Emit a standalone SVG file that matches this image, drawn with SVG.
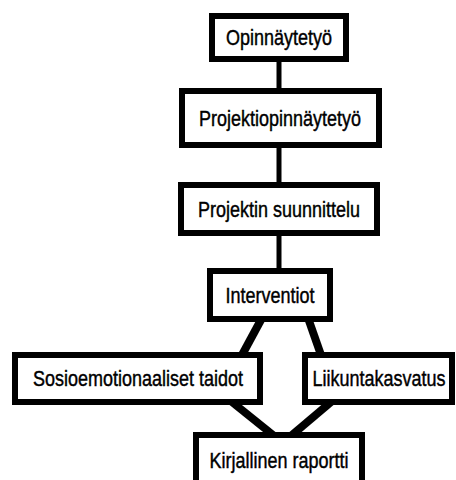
<svg xmlns="http://www.w3.org/2000/svg" width="456" height="480" viewBox="0 0 456 480">
<style>
.box{fill:#fff;stroke:#000;stroke-width:6}
.lbl{font-family:"Liberation Sans",Arial,sans-serif;font-size:18px;fill:#000;stroke:#000;stroke-width:0.35;text-anchor:middle}
.con{stroke:#000;fill:none}
</style>
<rect width="456" height="480" fill="#fff"/>
<g id="connectors">
<line class="con" x1="279" y1="60" x2="279" y2="90" stroke-width="5"/>
<line class="con" x1="279" y1="145" x2="279" y2="184" stroke-width="5"/>
<line class="con" x1="279" y1="232" x2="279" y2="270" stroke-width="5"/>
<line class="con" x1="262" y1="318" x2="242" y2="355" stroke-width="8"/>
<line class="con" x1="308" y1="318" x2="321" y2="355" stroke-width="8"/>
<line class="con" x1="232" y1="402" x2="273" y2="435" stroke-width="8"/>
<line class="con" x1="331" y1="402" x2="292" y2="435" stroke-width="8"/>
</g>
<g id="n1"><rect class="box" x="212" y="16" width="134" height="43"/><text class="lbl" transform="translate(279 45) scale(1 1.2)">Opinnäytetyö</text></g>
<g id="n2"><rect class="box" x="182" y="91" width="197" height="54"/><text class="lbl" transform="translate(280 126) scale(1 1.2)">Projektiopinnäytetyö</text></g>
<g id="n3"><rect class="box" x="181" y="185" width="196" height="48"/><text class="lbl" transform="translate(279 217) scale(1 1.2)">Projektin suunnittelu</text></g>
<g id="n4"><rect class="box" x="210" y="271" width="120" height="48"/><text class="lbl" transform="translate(270 303) scale(1 1.2)">Interventiot</text></g>
<g id="n5"><rect class="box" x="15" y="355" width="245" height="47"/><text class="lbl" transform="translate(138 386) scale(1 1.2)">Sosioemotionaaliset taidot</text></g>
<g id="n6"><rect class="box" x="305" y="355" width="147" height="47"/><text class="lbl" transform="translate(379 386) scale(1 1.2)">Liikuntakasvatus</text></g>
<g id="n7"><rect class="box" x="196" y="435" width="166" height="50"/><text class="lbl" transform="translate(279 468) scale(1 1.2)">Kirjallinen raportti</text></g>
</svg>
